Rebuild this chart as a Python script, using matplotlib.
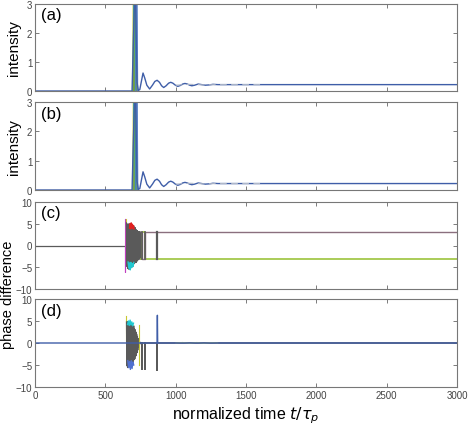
import numpy as np
import matplotlib.pyplot as plt

# intensity of the dominant mode after the burst (panel a / b)
blue_t = [0, 690, 712, 725, 735, 745, 755, 768, 780, 795, 815, 835, 852, 868, 885, 900,
          915, 932, 950, 965, 980, 998, 1015, 1033, 1050, 1066, 1083, 1100, 1115, 1135,
          1160, 1185, 1210, 1240, 1265, 1300, 3000]
blue_i = [0, 0, 4.0, 0.3, 0.02, 0.05, 0.3, 0.62, 0.45, 0.2, 0.07, 0.2, 0.33, 0.37, 0.3, 0.18,
          0.12, 0.18, 0.27, 0.3, 0.27, 0.2, 0.16, 0.19, 0.24, 0.26, 0.24, 0.2, 0.18, 0.2,
          0.24, 0.22, 0.2, 0.21, 0.23, 0.22, 0.22]

# faint trace of the other modes settling (dashed look in the reference)
faint_t = [1000, 1100, 1200, 1300, 1400, 1500, 1600]
faint_i = [0.2, 0.23, 0.21, 0.22, 0.22, 0.22, 0.22]

# other modes: spike centre and peak (they go off the top of the axes)
spike_a_t = [700, 704, 708, 711, 714, 717, 720, 723]
spike_b_t = [701, 705, 709, 712, 715, 718, 721, 724]
spike_peak = [4.5, 5.0, 4.0, 6.0, 5.5, 4.2, 5.0, 4.8]
spike_colors = ["#c8c84a", "#2bb5b5", "#8aa64a", "#6b8e23", "#3cb4a0", "#a0a000", "#1e90a0", "#5b7fc4"]

# phase differences, panel (c)
burst_t = np.linspace(650, 752, 40)
gray_c = [5.2, -4.8, 4.6, -5.3, 5.0, -4.1, 4.9, -5.5, 3.8, -4.7, 5.1, -3.9, 4.4, -5.0, 4.7,
          -4.5, 3.6, -4.9, 4.2, -3.8, 4.5, -4.2, 3.9, -4.0, 4.1, -3.5, 3.7, -3.9, 3.3, -3.6,
          3.4, -3.2, 3.1, -3.3, 3.2, -3.1, 3.2, -3.1, 3.1, -3.1]
red_t = [672, 676, 680, 684, 688, 692, 696, 700, 704]
red_c = [4.0, 5.0, 3.8, 5.2, 4.1, 4.9, 3.9, 4.6, 3.8]
cyan_t = [662, 667, 672, 677, 682, 687, 692, 697, 702]
cyan_c = [-3.8, -5.2, -4.0, -5.6, -3.9, -5.1, -4.2, -4.8, -3.9]
upper_t = [750, 758, 758, 782, 782, 870, 870, 3000]
upper_c = [3.14, 3.14, -3.14, -3.14, 3.14, 3.14, 3.14, 3.14]
lower_t = [750, 758, 758, 782, 782, 870, 870, 3000]
lower_c = [-3.14, -3.14, 3.14, 3.14, -3.14, -3.14, -3.14, -3.14]
pre_c_t = [0, 645]
pre_c = [0, 0]

# phase differences, panel (d)
gray_d = [4.8, -5.2, 4.5, -5.6, 4.9, -5.0, 4.6, -5.4, 4.2, -5.3, 4.7, -4.8, 4.3, -5.5, 4.0,
          -4.6, 3.8, -5.0, 3.5, -4.1, 3.9, -3.8, 3.2, -3.6, 3.0, -3.0, 2.5, -2.8, 2.0, -2.2,
          1.5, -1.6, 1.0, -1.0, 0.6, -0.5, 0.3, -0.2, 0.1, 0.0]
cyan_d_t = [658, 664, 670, 676, 682, 688, 694, 700]
cyan_d = [4.2, 5.0, 4.0, 5.2, 4.1, 4.8, 3.9, 4.5]
blue_d_t = [660, 666, 672, 678, 684, 690, 696, 702]
blue_d = [-4.0, -5.6, -4.2, -6.0, -4.0, -5.8, -4.3, -5.0]
jump_d_t = [750, 758, 758, 758, 782, 782, 782, 870, 870, 870, 3000]
jump_d = [0, 0, -6.0, 0, 0, -6.0, 0, 0, -6.2, 0, 0]
zero_d_t = [0, 868, 870, 872, 3000]
zero_d = [0, 0, 6.3, 0, 0]
wig_t = [1000, 1050, 1100, 1150, 1200, 1250, 1300]
wig_d = [0, 0.15, -0.1, 0.15, -0.1, 0.12, 0]

C_BLUE = "#3f5ea8"
C_GRAY = "#5a5a5a"
C_GREEN = "#9cc43c"
C_MAUVE = "#8a6f7e"

plt.rcParams["font.family"] = ["Liberation Sans", "DejaVu Sans"]
fig = plt.figure(figsize=(4.69, 4.27), dpi=100)

L, W = 35 / 469, 422 / 469
boxes = [(5, 92), (103, 191), (203, 290), (300, 388)]
axes = []
for top, bot in boxes:
    ax = fig.add_axes([L, 1 - bot / 427, W, (bot - top) / 427])
    axes.append(ax)

for k, ax in enumerate(axes):
    ax.set_xlim(0, 3000)
    ax.set_xticks([0, 500, 1000, 1500, 2000, 2500, 3000])
    ax.tick_params(direction="in", top=True, right=True, length=3, width=0.6,
                   labelsize=7, colors="#666666", labelcolor="#444444", pad=2)
    for sp in ax.spines.values():
        sp.set_color("#777777")
        sp.set_linewidth(0.8)
    if k < 3:
        ax.tick_params(labelbottom=False)

# (a) and (b)
for ax, st, lab in [(axes[0], spike_a_t, "(a)"), (axes[1], spike_b_t, "(b)")]:
    for c, p, col in zip(st, spike_peak, spike_colors):
        ax.plot([c - 7, c, c + 7], [0, p, 0], color=col, lw=0.8)
    ax.plot(blue_t, blue_i, color=C_BLUE, lw=1.0)
    ax.plot(faint_t, faint_i, color="#b0b8c8", lw=0.8, ls=(0, (6, 4)))
    ax.set_ylim(0, 3)
    ax.set_yticks([0, 1, 2, 3])
    ax.set_ylabel("intensity", fontsize=11, labelpad=4)
    ax.text(0.015, 0.96, lab, transform=ax.transAxes, fontsize=12, va="top")

# (c)
ax = axes[2]
ax.plot(pre_c_t, pre_c, color=C_GRAY, lw=0.9)
ax.plot([0, 0, 0], [-6, 6, 0], color="#c8c832", lw=1.2)
ax.plot([0, 0], [-2, -5], color="#2bc0c0", lw=1.2)
ax.plot([640, 640, 640], [0, -6.2, 6.0], color="#c040c0", lw=0.8)
ax.plot([645, 645], [0, 6.2], color="#c8c832", lw=0.8)
ax.fill_between(burst_t, np.minimum(gray_c, 0), np.maximum(gray_c, 0), color=C_GRAY, lw=0)
ax.plot(burst_t, gray_c, color=C_GRAY, lw=0.8)
ax.plot(red_t, red_c, color="#e02020", lw=1.0)
ax.plot(cyan_t, cyan_c, color="#20c8d0", lw=1.0)
ax.plot(lower_t, lower_c, color=C_GREEN, lw=1.2)
ax.plot(upper_t, upper_c, color=C_MAUVE, lw=1.0)
ax.plot([758, 758], [-3.14, 3.14], color=C_GRAY, lw=1.2)
ax.plot([782, 782], [-3.14, 3.14], color=C_GRAY, lw=1.2)
ax.plot([870, 870], [-3.14, 3.14], color=C_GRAY, lw=1.6)
ax.set_ylim(-10, 10)
ax.set_yticks([-10, -5, 0, 5, 10])
ax.text(0.015, 0.96, "(c)", transform=ax.transAxes, fontsize=12, va="top")

# (d)
ax = axes[3]
ax.plot([0, 0], [2, -5], color="#e080c0", lw=1.2)
ax.plot([645, 645], [0, 6.2], color="#c8c832", lw=0.8)
ax.fill_between(burst_t, np.minimum(gray_d, 0), np.maximum(gray_d, 0), color=C_GRAY, lw=0)
ax.plot(burst_t, gray_d, color=C_GRAY, lw=0.8)
ax.plot(cyan_d_t, cyan_d, color="#20c8d0", lw=1.0)
ax.plot(blue_d_t, blue_d, color="#5070d0", lw=1.0)
ax.plot([740, 740], [4.0, -5.0], color="#c8c832", lw=0.8)
ax.plot(jump_d_t, jump_d, color=C_GRAY, lw=1.2)
ax.plot(wig_t, wig_d, color="#b8c860", lw=0.6)
ax.plot(zero_d_t, zero_d, color=C_BLUE, lw=1.0)
ax.set_ylim(-10, 10)
ax.set_yticks([-10, -5, 0, 5, 10])
ax.text(0.015, 0.96, "(d)", transform=ax.transAxes, fontsize=12, va="top")
ax.set_xlabel(r"normalized time $t/\tau_p$", fontsize=11.5, labelpad=3)

fig.text(0.002, 1 - 295 / 427, "phase difference", rotation=90, fontsize=10.5,
         va="center", ha="left")

fig.savefig("out.png", dpi=100)
